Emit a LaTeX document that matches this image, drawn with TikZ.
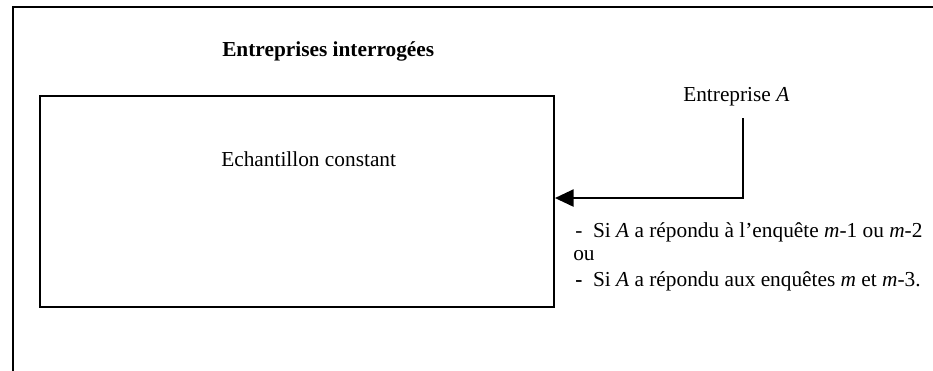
\documentclass[tikz,border=0pt]{standalone}
\usepackage{fontspec}
\setmainfont{Liberation Serif}
\usetikzlibrary{arrows.meta}
\begin{document}
\begin{tikzpicture}[x=0.75pt,y=-0.75pt,
    frame/.style={line width=1.5pt},
    txt/.style={anchor=base west,inner sep=0pt,font=\fontsize{16}{19}\selectfont},
    link/.style={line width=1.1pt,-{Triangle[length=14pt,width=13pt]}}]
  \useasboundingbox (0,0) rectangle (933,371);
  \draw[frame] (933,7) -- (13,7) -- (13,371);

  \node[txt] (title) at (222,56) {\textbf{Entreprises interrogées}};
  \node[draw,frame,anchor=north west,minimum width=385.5pt,minimum height=158.25pt,inner sep=0pt] (box) at (39,95) {};
  \node[txt] (sample) at (221,166) {Echantillon constant};

  \node[txt] (entA) at (683,101) {Entreprise \textit{A}};
  \coordinate (src) at (743,118);
  \draw[link] (src) |- ([yshift=2.6pt]box.east);

  \node[txt] (cond1) at (575,237) {-\hspace{0.5em}Si \textit{A} a répondu à l'enquête \textit{m}-1 ou \textit{m}-2};
  \node[txt] (orword) at (573,260) {ou};
  \node[txt] (cond2) at (575,286) {\textbf{-}\hspace{0.5em}Si \textit{A} a répondu aux enquêtes \textit{m} et \textit{m}-3.};
\end{tikzpicture}
\end{document}
